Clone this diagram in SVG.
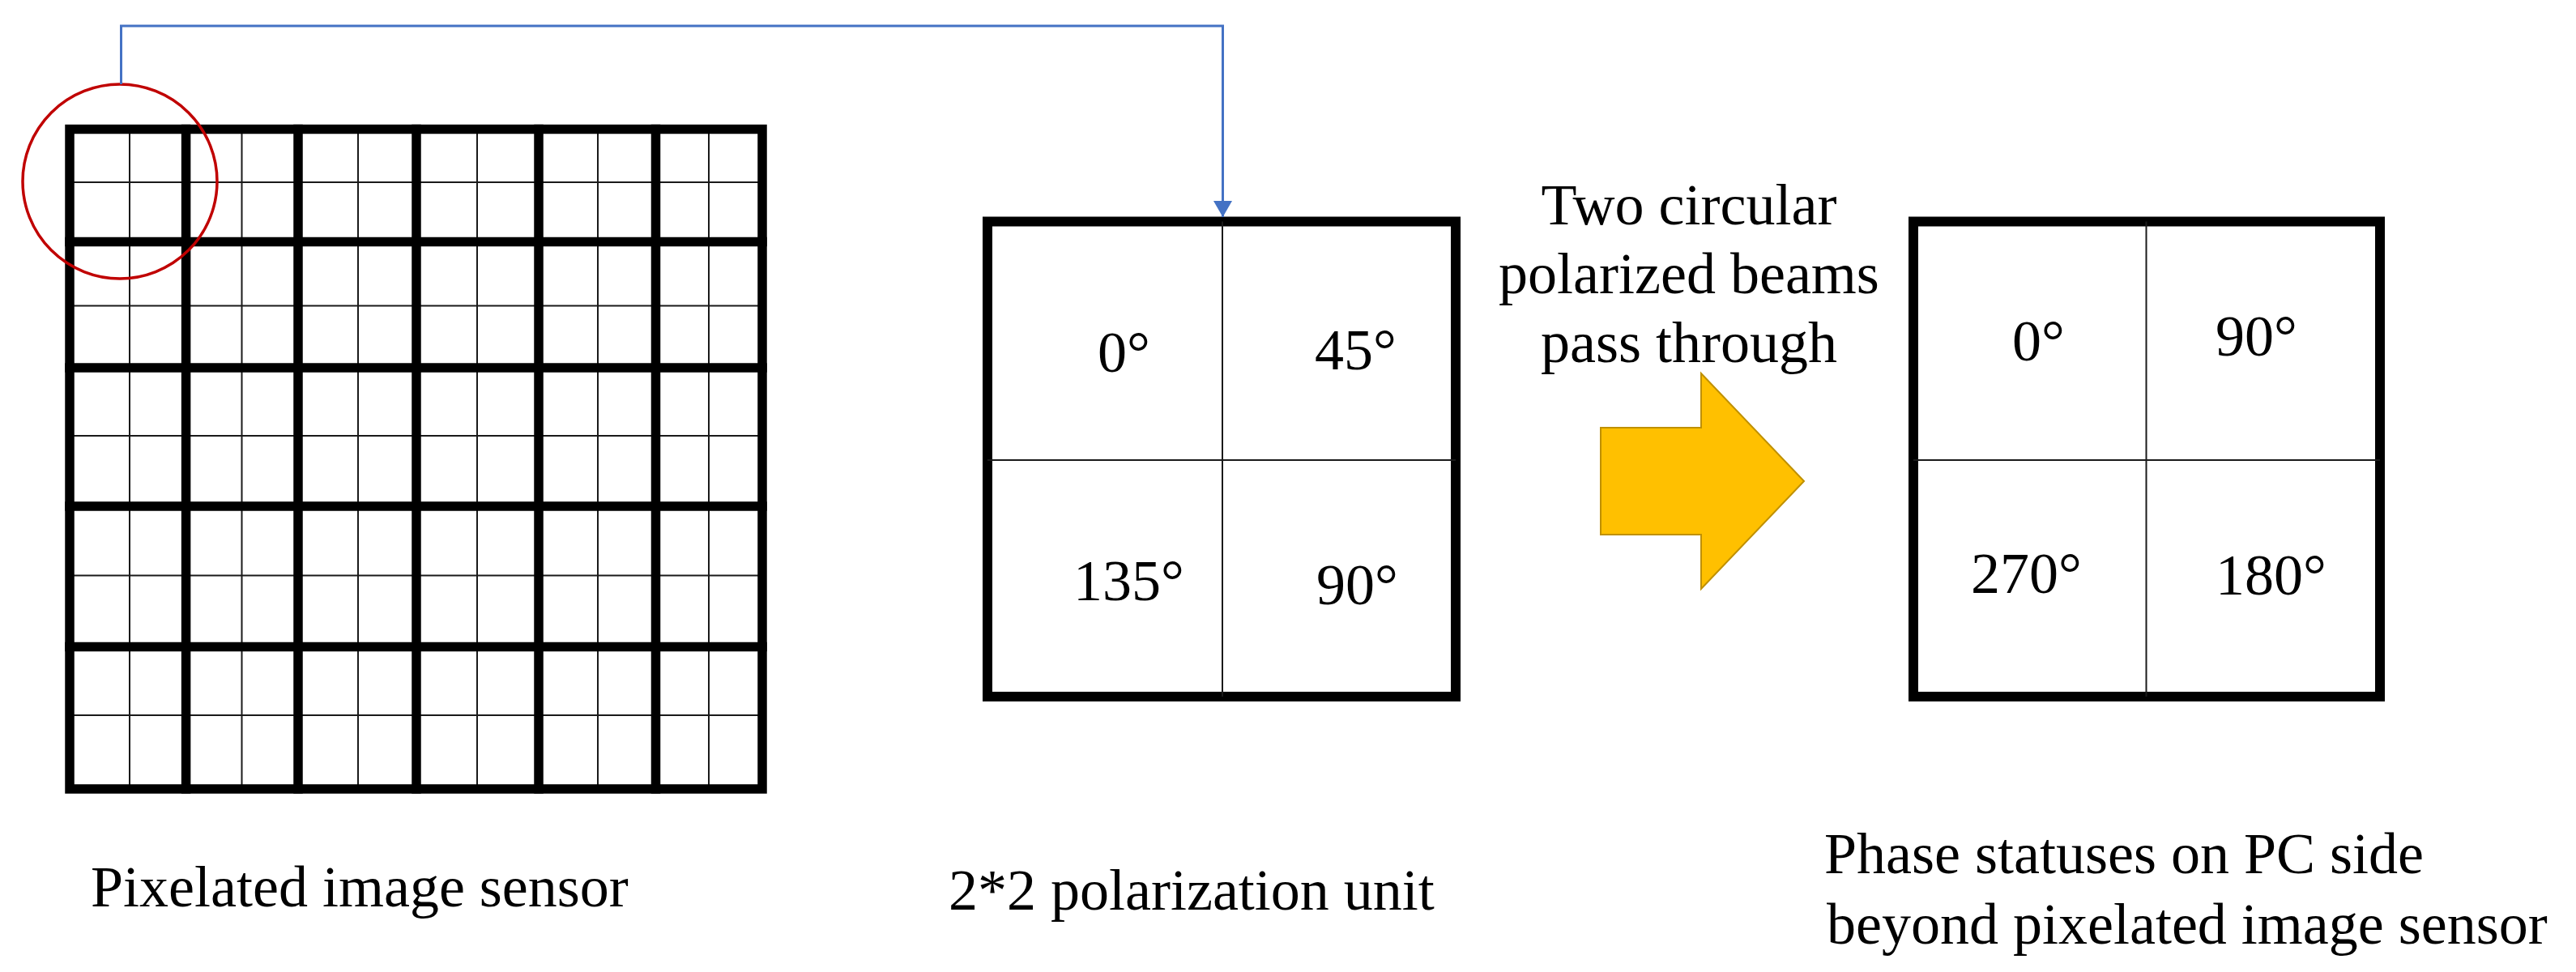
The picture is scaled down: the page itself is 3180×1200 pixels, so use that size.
<svg xmlns="http://www.w3.org/2000/svg" width="3180" height="1200" viewBox="0 0 3180 1200">
  <style>
    .thick { stroke: #000; stroke-width: 11.5; fill: none; stroke-linecap: square; }
    .thin { stroke: #1a1a1a; stroke-width: 2; fill: none; }
    .box { stroke: #000; stroke-width: 12; fill: #fff; stroke-linejoin: miter; }
    .lbl { font-family: "Liberation Serif", "Times New Roman", serif; font-size: 72px; fill: #000; }
    .conn { stroke: #4472C4; stroke-width: 3; fill: none; }
  </style>
  <defs>
    <marker id="arrowhead" markerUnits="userSpaceOnUse" markerWidth="22" markerHeight="24" refX="20" refY="11.5" orient="auto">
      <path d="M0,0 L20,11.5 L0,23 Z" fill="#4472C4"/>
    </marker>
  </defs>
  <rect width="3180" height="1200" fill="#fff"/>

  <g id="sensor-grid">
    <g class="thin">
      <line x1="160" y1="159.5" x2="160" y2="974"/>
      <line x1="298.5" y1="159.5" x2="298.5" y2="974"/>
      <line x1="442" y1="159.5" x2="442" y2="974"/>
      <line x1="589" y1="159.5" x2="589" y2="974"/>
      <line x1="738" y1="159.5" x2="738" y2="974"/>
      <line x1="875" y1="159.5" x2="875" y2="974"/>
      <line x1="86" y1="225" x2="941" y2="225"/>
      <line x1="86" y1="377.5" x2="941" y2="377.5"/>
      <line x1="86" y1="538" x2="941" y2="538"/>
      <line x1="86" y1="710.5" x2="941" y2="710.5"/>
      <line x1="86" y1="883" x2="941" y2="883"/>
    </g>
    <g class="thick">
      <line x1="229.6" y1="159.5" x2="229.6" y2="974"/>
      <line x1="368" y1="159.5" x2="368" y2="974"/>
      <line x1="514" y1="159.5" x2="514" y2="974"/>
      <line x1="665" y1="159.5" x2="665" y2="974"/>
      <line x1="809.5" y1="159.5" x2="809.5" y2="974"/>
      <line x1="86" y1="298.5" x2="941" y2="298.5"/>
      <line x1="86" y1="454" x2="941" y2="454"/>
      <line x1="86" y1="625" x2="941" y2="625"/>
      <line x1="86" y1="798.5" x2="941" y2="798.5"/>
      <rect x="86" y="159.5" width="855" height="814.5" stroke-linecap="butt"/>
    </g>
  </g>

  <g id="highlight-circle">
    <circle cx="148" cy="224" r="120" fill="none" stroke="#C00000" stroke-width="3.5"/>
  </g>

  <g id="polarization-unit">
    <rect class="box" x="1219" y="273.5" width="578" height="586.5"/>
    <line class="thin" x1="1509" y1="273.5" x2="1509" y2="860"/>
    <line class="thin" x1="1219" y1="568" x2="1797" y2="568"/>
    <text class="lbl" x="1355" y="459">0°</text>
    <text class="lbl" x="1623" y="456">45°</text>
    <text class="lbl" x="1325" y="741">135°</text>
    <text class="lbl" x="1625" y="746">90°</text>
  </g>

  <g id="beam-arrow">
    <polygon points="1976,528 2100,528 2100,461 2227,594 2100,727 2100,660 1976,660" fill="#FFC000" stroke="#BF9000" stroke-width="2"/>
    <text class="lbl" x="2085" y="277" text-anchor="middle">Two circular</text>
    <text class="lbl" x="2085" y="362" text-anchor="middle">polarized beams</text>
    <text class="lbl" x="2085" y="447" text-anchor="middle">pass through</text>
  </g>

  <g id="phase-unit">
    <rect class="box" x="2362" y="273.5" width="576" height="586.5"/>
    <line class="thin" x1="2649.5" y1="273.5" x2="2649.5" y2="860"/>
    <line class="thin" x1="2362" y1="568" x2="2938" y2="568"/>
    <text class="lbl" x="2484" y="445">0°</text>
    <text class="lbl" x="2735" y="439">90°</text>
    <text class="lbl" x="2433" y="732">270°</text>
    <text class="lbl" x="2735" y="734">180°</text>
  </g>

  <g id="captions">
    <text class="lbl" x="112" y="1119">Pixelated image sensor</text>
    <text class="lbl" x="1171" y="1123">2*2 polarization unit</text>
    <text class="lbl" x="2252" y="1078">Phase statuses on PC side</text>
    <text class="lbl" x="2255" y="1165">beyond pixelated image sensor</text>
  </g>

  <g id="connectors">
    <path class="conn" d="M149.5,104 V32 H1509.5 V268" marker-end="url(#arrowhead)"/>
  </g>
</svg>
